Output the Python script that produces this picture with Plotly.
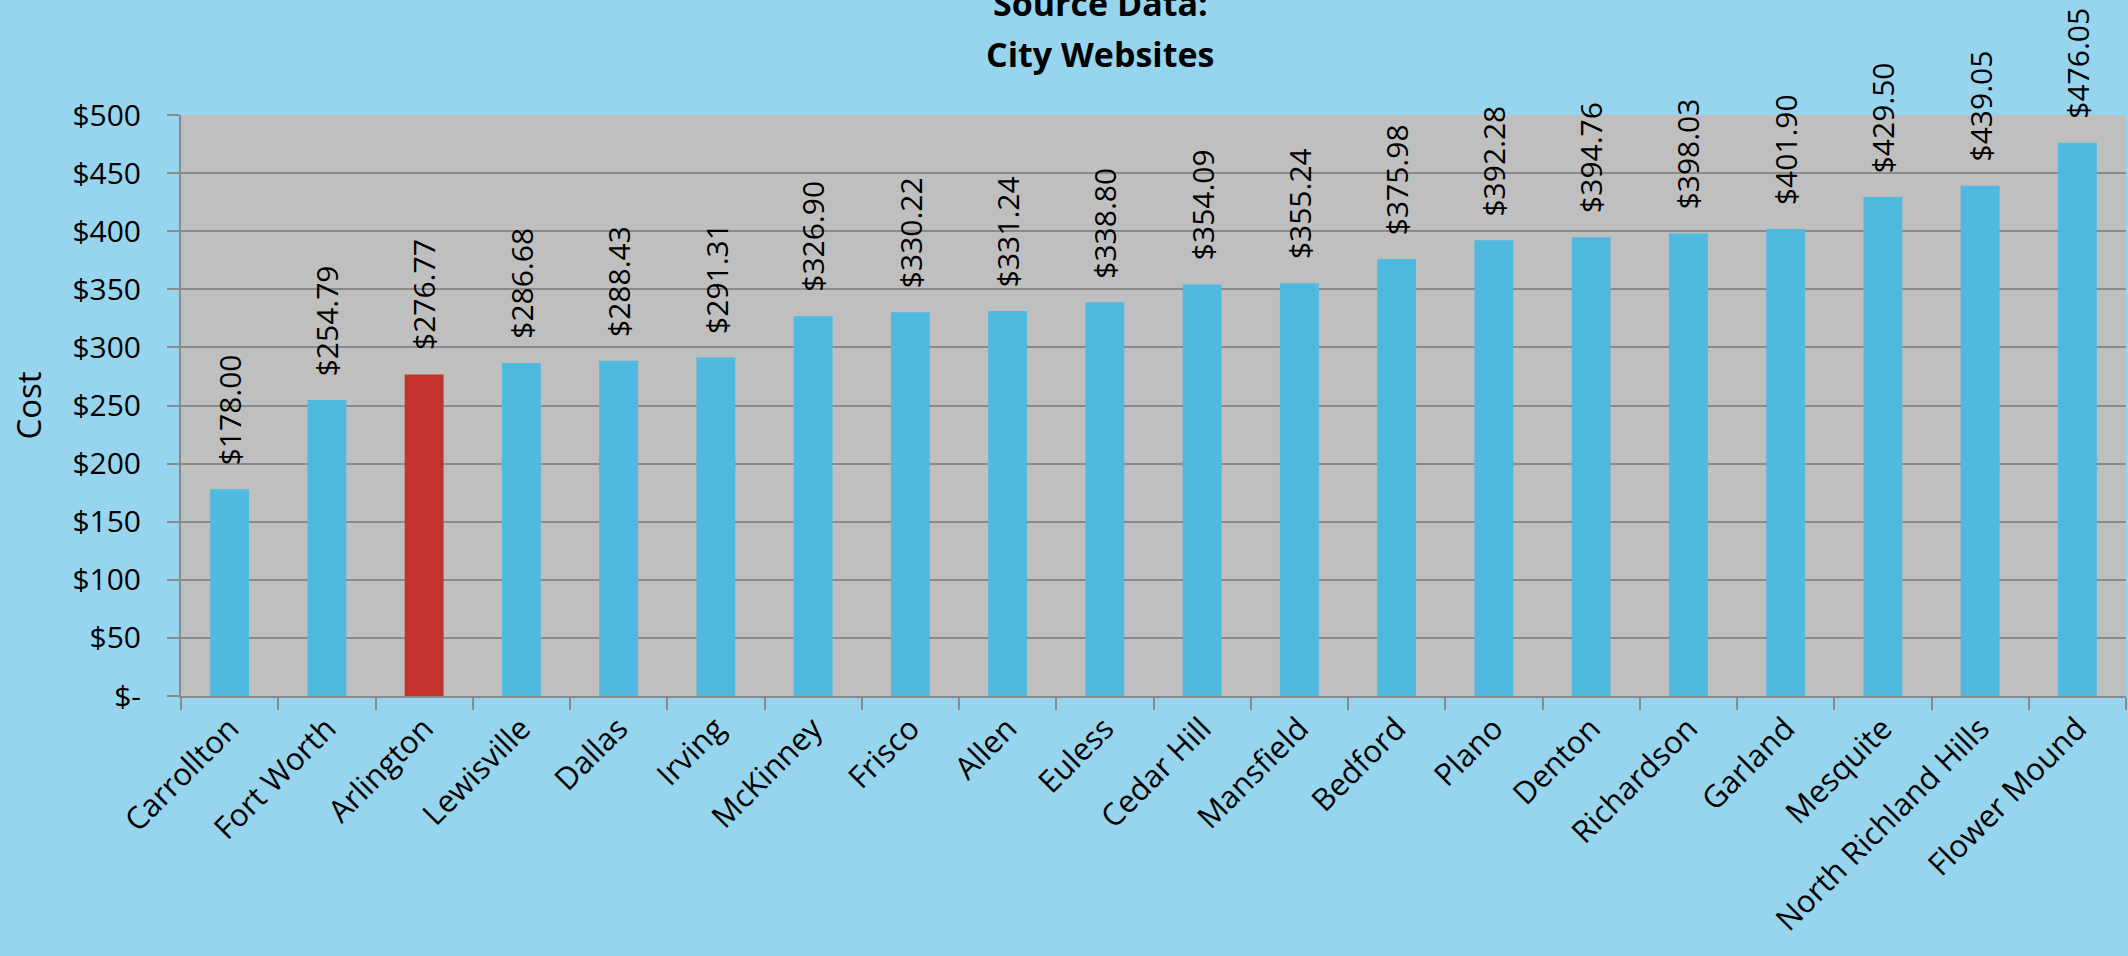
import plotly.graph_objects as go

cities = ["Carrollton", "Fort Worth", "Arlington", "Lewisville", "Dallas", "Irving",
          "McKinney", "Frisco", "Allen", "Euless", "Cedar Hill", "Mansfield", "Bedford",
          "Plano", "Denton", "Richardson", "Garland", "Mesquite", "North Richland Hills",
          "Flower Mound"]
costs = [178.00, 254.79, 276.77, 286.68, 288.43, 291.31, 326.90, 330.22, 331.24, 338.80,
         354.09, 355.24, 375.98, 392.28, 394.76, 398.03, 401.90, 429.50, 439.05, 476.05]
highlight = "Arlington"
title_lines = ["Source Data:", "City Websites"]
y_tickvals = [0, 50, 100, 150, 200, 250, 300, 350, 400, 450, 500]
y_ticktext = ["$-", "$50", "$100", "$150", "$200", "$250", "$300", "$350", "$400", "$450", "$500"]

BLUE = "#4FB9DF"
RED = "#C4322D"
FONT = "Open Sans"

colors = [RED if c == highlight else BLUE for c in cities]

fig = go.Figure()
fig.add_trace(go.Bar(x=cities, y=costs, marker=dict(color=colors, line=dict(width=0)),
                     hoverinfo="x+y"))

for c, v in zip(cities, costs):
    fig.add_annotation(x=c, y=v, xref="x", yref="y", text=f"${v:,.2f}",
                       textangle=-90, showarrow=False, yanchor="bottom", xanchor="center",
                       yshift=22, font=dict(family=FONT, size=30, color="black"))

for line, shift in zip(title_lines, [112, 61]):
    fig.add_annotation(xref="paper", yref="paper", x=0.4725, y=1, xanchor="center",
                       yanchor="middle", yshift=shift, showarrow=False,
                       text=f"<b>{line}</b>",
                       font=dict(family=FONT, size=34, color="black"))

fig.update_layout(
    width=2128, height=956,
    paper_bgcolor="#97D4ED", plot_bgcolor="#BFBFBF",
    margin=dict(l=181, r=2, t=115, b=260),
    bargap=0.6,
    showlegend=False,
    font=dict(family=FONT, color="black"),
)
fig.update_xaxes(
    tickson="boundaries", ticks="outside", ticklen=12, tickwidth=2, tickcolor="#8A8A8A",
    showline=True, linecolor="#8A8A8A", linewidth=2, showgrid=False,
    tickangle=-45, tickfont=dict(family=FONT, size=31, color="black"),
    ticklabelstandoff=0,
)
fig.update_yaxes(
    range=[0, 500], tickvals=y_tickvals, ticktext=y_ticktext,
    ticks="outside", ticklen=12, tickwidth=2, tickcolor="#8A8A8A",
    showline=True, linecolor="#8A8A8A", linewidth=2,
    showgrid=True, gridcolor="#8A8A8A", gridwidth=2, zeroline=False,
    tickfont=dict(family=FONT, size=30, color="black"), ticklabelstandoff=20,
    title=dict(text="Cost", font=dict(family=FONT, size=33, color="black"), standoff=21),
)

fig.write_html("out.html", config={"displayModeBar": False},
               post_script="document.body.style.margin='0';document.body.style.overflow='hidden';")
